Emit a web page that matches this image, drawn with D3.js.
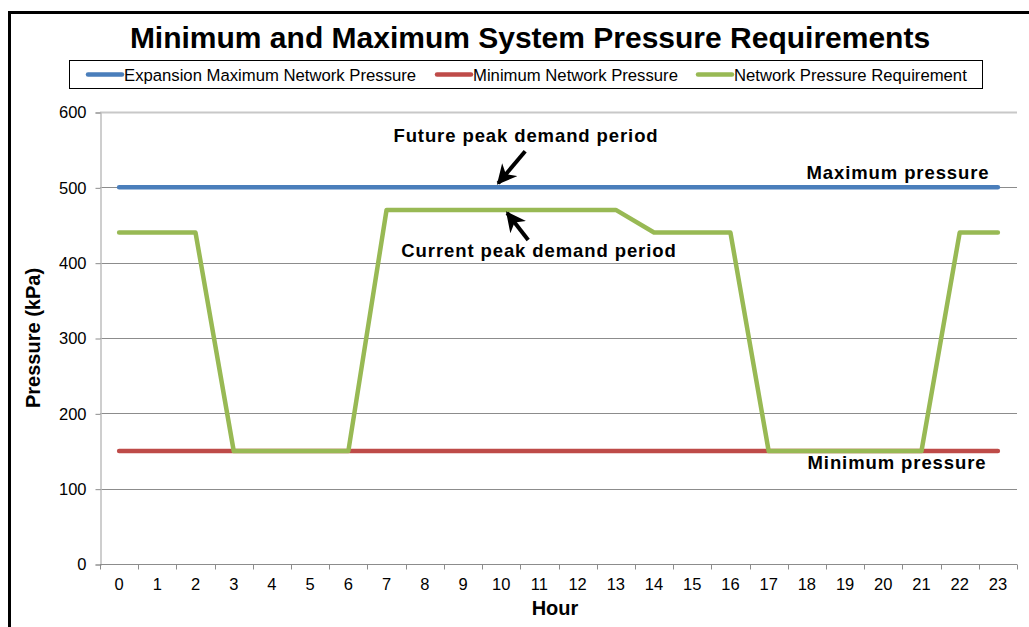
<!DOCTYPE html>
<html>
<head>
<meta charset="utf-8">
<script src="https://cdn.jsdelivr.net/npm/d3@7"></script>
<style>
  html, body { margin: 0; padding: 0; background: #fff; }
  svg { display: block; font-family: "Liberation Sans", Arial, sans-serif; }
</style>
</head>
<body>
<svg id="chart" width="1029" height="627"></svg>
<script>
// Hourly pressure profile (kPa)
const hours = d3.range(0, 24);
const expansionMax = [500,500,500,500,500,500,500,500,500,500,500,500,500,500,500,500,500,500,500,500,500,500,500,500];
const minimumNetwork = [150,150,150,150,150,150,150,150,150,150,150,150,150,150,150,150,150,150,150,150,150,150,150,150];
const requirement = [440,440,440,150,150,150,150,470,470,470,470,470,470,470,440,440,440,150,150,150,150,150,440,440];
const yTicks = [0,100,200,300,400,500,600];

const seriesNames = ["Expansion Maximum Network Pressure", "Minimum Network Pressure", "Network Pressure Requirement"];
const seriesColors = ["#4A7EBB", "#BE4B48", "#98B954"];
const seriesValues = [expansionMax, minimumNetwork, requirement];

const svg = d3.select("#chart");
const FONT = "Liberation Sans, Arial, sans-serif";

// outer frame
svg.append("rect")
  .attr("x", 9.5).attr("y", 12.5)
  .attr("width", 1100).attr("height", 700)
  .attr("fill", "none").attr("stroke", "#000").attr("stroke-width", 3);

const plot = { left: 100, right: 1017, top: 112, bottom: 564 };

const x = d3.scaleBand().domain(hours).range([plot.left, plot.right]);
const y = d3.scaleLinear().domain([0, 600]).range([plot.bottom, plot.top]);
const cx = h => x(h) + x.bandwidth() / 2;

// horizontal gridlines
svg.append("g").selectAll("line").data(yTicks.filter(t => t > 0)).join("line")
  .attr("x1", plot.left).attr("x2", plot.right)
  .attr("y1", d => Math.round(y(d)) + 0.5).attr("y2", d => Math.round(y(d)) + 0.5)
  .attr("stroke", d => d === 600 ? "#c8c8c8" : "#8c8c8c").attr("stroke-width", d => d === 600 ? 2 : 1);

// y axis
const yAxis = d3.axisLeft(y).tickValues(yTicks).tickSize(5).tickPadding(9);
const gy = svg.append("g").attr("transform", `translate(${plot.left + 0.5},0.5)`).call(yAxis);
gy.attr("font-size", null).attr("font-family", null);
gy.select(".domain").attr("stroke", "#bfbfbf").attr("stroke-width", 1.5);
gy.selectAll(".tick line").attr("stroke", "#8c8c8c");
gy.selectAll(".tick text").attr("font-size", 16.5).attr("fill", "#000").attr("font-family", FONT);

// x axis with ticks at category boundaries
const gx = svg.append("g").attr("transform", `translate(0,${plot.bottom + 0.5})`);
gx.append("line").attr("x1", plot.left).attr("x2", plot.right).attr("stroke", "#8c8c8c");
gx.selectAll("line.tk").data(d3.range(0, 25)).join("line").attr("class", "tk")
  .attr("x1", i => Math.round(plot.left + i * x.step()) + 0.5)
  .attr("x2", i => Math.round(plot.left + i * x.step()) + 0.5)
  .attr("y1", 0).attr("y2", 5).attr("stroke", "#8c8c8c");
gx.selectAll("text").data(hours).join("text")
  .attr("x", d => cx(d)).attr("y", 25.5)
  .attr("text-anchor", "middle").attr("font-size", 16.5).attr("fill", "#000")
  .text(d => d);

// series lines
const line = d3.line().x((d, i) => cx(hours[i])).y(d => y(d));
seriesValues.forEach((vals, k) => {
  svg.append("path").datum(vals)
    .attr("d", line)
    .attr("fill", "none")
    .attr("stroke", seriesColors[k])
    .attr("stroke-width", 4.5)
    .attr("stroke-linejoin", "round")
    .attr("stroke-linecap", "round");
});

// title
svg.append("text")
  .attr("x", 530).attr("y", 48)
  .attr("text-anchor", "middle")
  .attr("font-size", 30).attr("font-weight", "bold")
  .text("Minimum and Maximum System Pressure Requirements");

// legend
const legend = svg.append("g");
legend.append("rect").attr("x", 69.5).attr("y", 60.5).attr("width", 913).attr("height", 28)
  .attr("fill", "#fff").attr("stroke", "#000").attr("stroke-width", 1);
const legendX = [88, 437, 698];
seriesNames.forEach((name, k) => {
  legend.append("line")
    .attr("x1", legendX[k]).attr("x2", legendX[k] + 34)
    .attr("y1", 74.5).attr("y2", 74.5)
    .attr("stroke", seriesColors[k]).attr("stroke-width", 4.5).attr("stroke-linecap", "round");
  legend.append("text")
    .attr("x", legendX[k] + 36).attr("y", 80.5)
    .attr("font-size", 16.7)
    .text(name);
});

// axis titles
svg.append("text")
  .attr("transform", `translate(40,${(plot.top + plot.bottom) / 2}) rotate(-90)`)
  .attr("text-anchor", "middle")
  .attr("font-size", 20).attr("font-weight", "bold")
  .text("Pressure (kPa)");
svg.append("text")
  .attr("x", 555).attr("y", 615)
  .attr("text-anchor", "middle")
  .attr("font-size", 20).attr("font-weight", "bold")
  .text("Hour");

// annotations
const notes = [
  { text: "Maximum pressure", x: 898, y: 179 },
  { text: "Minimum pressure", x: 897, y: 469 },
  { text: "Future peak demand period", x: 526, y: 142 },
  { text: "Current peak demand period", x: 539, y: 257 }
];
svg.append("g").selectAll("text").data(notes).join("text")
  .attr("x", d => d.x).attr("y", d => d.y)
  .attr("text-anchor", "middle")
  .attr("font-size", 18.5).attr("font-weight", "bold")
  .attr("letter-spacing", 0.9)
  .text(d => d.text);

// arrows pointing at the peak periods
svg.append("defs").append("marker")
  .attr("id", "head").attr("viewBox", "0 0 10 10")
  .attr("refX", 9).attr("refY", 5)
  .attr("markerWidth", 5).attr("markerHeight", 5)
  .attr("orient", "auto")
  .append("path").attr("d", "M0,0 L10,5 L0,10 L3,5 Z").attr("fill", "#000");

const arrows = [
  { from: [cx(10) + 24, y(500) - 36], to: [cx(10) - 3, y(500) - 4] },
  { from: [cx(10) + 27, y(470) + 30], to: [cx(10) + 6, y(470) + 3] }
];
svg.append("g").selectAll("line").data(arrows).join("line")
  .attr("x1", d => d.from[0]).attr("y1", d => d.from[1])
  .attr("x2", d => d.to[0]).attr("y2", d => d.to[1])
  .attr("stroke", "#000").attr("stroke-width", 4)
  .attr("marker-end", "url(#head)");
</script>
</body>
</html>
